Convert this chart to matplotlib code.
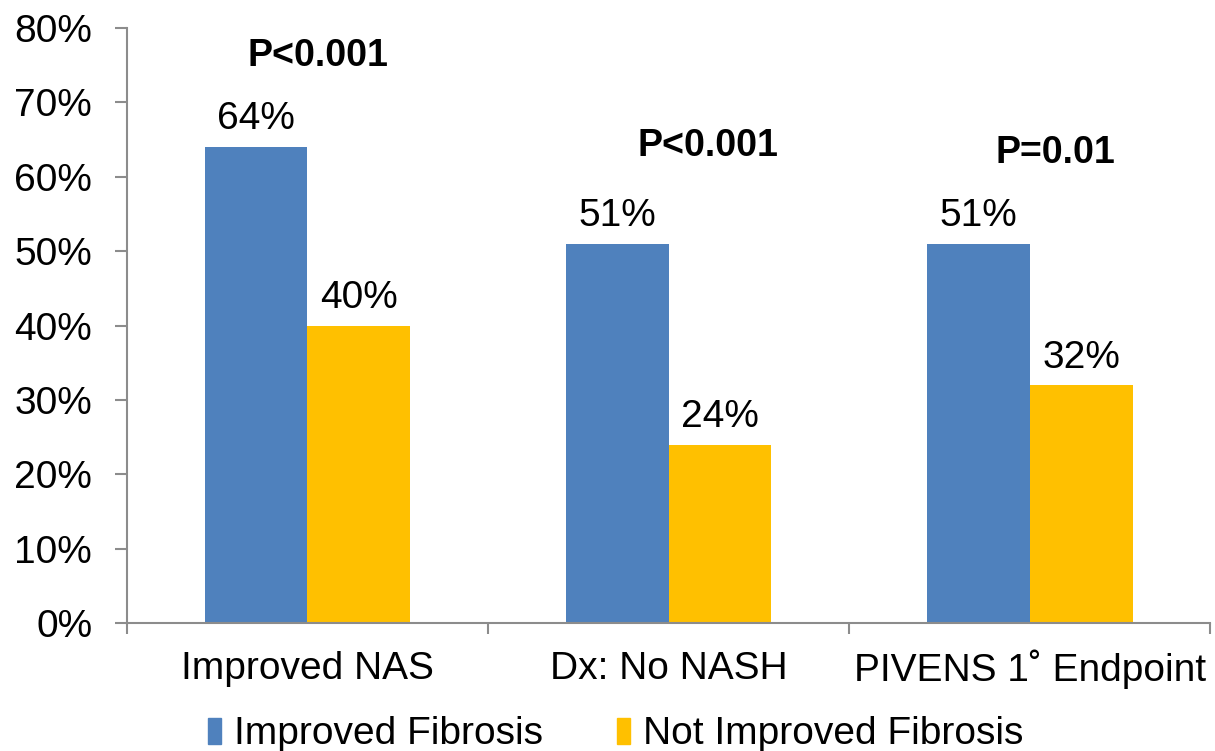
import numpy as np
import matplotlib.pyplot as plt
from matplotlib.patches import Patch

categories = ["Improved NAS", "Dx: No NASH", "PIVENS 1\u02da Endpoint"]
improved = [64, 51, 51]
not_improved = [40, 24, 32]
p_labels = ["P<0.001", "P<0.001", "P=0.01"]
series_names = ["Improved Fibrosis", "Not Improved Fibrosis"]

blue = "#4F81BD"
gold = "#FFC000"
axis_grey = "#8C8C8C"

plt.rcParams["font.family"] = ["Liberation Sans", "DejaVu Sans"]

fig = plt.figure(figsize=(12.15, 7.51), dpi=100)
ax = fig.add_axes([0.1045, 0.1704, 0.8915, 0.7923])

x = np.arange(len(categories))
w = 0.285
b1 = ax.bar(x - w / 2, improved, w, color=blue)
b2 = ax.bar(x + w / 2, not_improved, w, color=gold)

for bars, vals in ((b1, improved), (b2, not_improved)):
    for bar, v in zip(bars, vals):
        ax.text(bar.get_x() + bar.get_width() / 2, v + 3.7, f"{v}%",
                ha="center", va="center", fontsize=28)

p_x = [0.03, 1.11, 2.07]
p_y = [76.3, 64.2, 63.2]
for px, py, lab in zip(p_x, p_y, p_labels):
    ax.text(px, py, lab, ha="center", va="center", fontsize=27, fontweight="bold")

ax.set_xlim(-0.5, 2.5)
ax.set_ylim(0, 80)
ax.set_yticks(np.arange(0, 81, 10))
ax.set_yticklabels([f"{t}%" for t in range(0, 81, 10)], fontsize=28)
ax.set_xticks([-0.5, 0.5, 1.5, 2.5])
ax.set_xticklabels([])
ax.tick_params(axis="y", length=9, color=axis_grey, width=1.5, pad=16)
ax.tick_params(axis="x", length=8, color=axis_grey, width=1.5)
for i, c in enumerate(categories):
    ax.text(i, -6.2, c, ha="center", va="center", fontsize=28)

for s in ("top", "right"):
    ax.spines[s].set_visible(False)
for s in ("left", "bottom"):
    ax.spines[s].set_color(axis_grey)
    ax.spines[s].set_linewidth(1.5)

handles = [Patch(color=blue), Patch(color=gold)]
fig.legend(handles, series_names, loc="center", bbox_to_anchor=(0.507, 0.022),
           ncol=2, frameon=False, fontsize=28, handlelength=0.32, handleheight=0.65,
           handletextpad=0.35, columnspacing=1.9)

fig.savefig("out.png", dpi=100)
plt.close(fig)
